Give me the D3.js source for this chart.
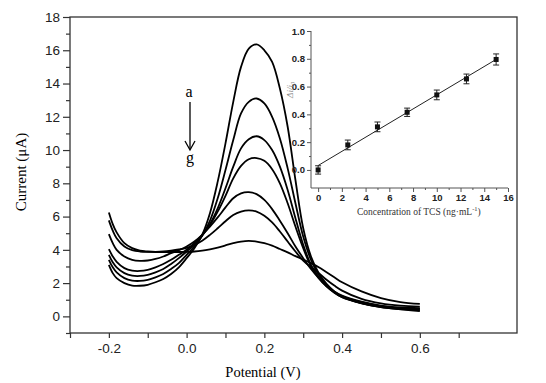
<!DOCTYPE html>
<html>
<head>
<meta charset="utf-8">
<script src="https://cdn.jsdelivr.net/npm/d3@7"></script>
<style>
  body { margin: 0; background: #fff; }
  svg { display: block; }
</style>
</head>
<body>
<div id="chart"></div>
<script>
// potentials (V) shared by every DPV curve
const potentials = [-0.2, -0.19, -0.18, -0.16, -0.14, -0.12, -0.1, -0.08, -0.06, -0.04, -0.02, 0,
  0.02, 0.04, 0.06, 0.08, 0.1, 0.12, 0.14, 0.16, 0.18, 0.2, 0.22, 0.24, 0.26, 0.28, 0.3,
  0.32, 0.34, 0.36, 0.38, 0.4, 0.45, 0.5, 0.55, 0.6]

// currents (uA), curve a (highest) down to g
const curveA = [3.1, 2.6, 2.3, 2.0, 1.85, 1.84, 1.9, 2.05, 2.25, 2.55, 2.95, 3.5, 4.1, 4.9, 6.2, 8.1, 10.4, 12.9, 15.0, 16.1, 16.35, 16.0, 15.3, 13.7, 11.4, 8.2, 5.3, 3.6, 2.6, 1.95, 1.5, 1.2, 0.8, 0.55, 0.42, 0.32]
const curveB = [3.4, 2.95, 2.65, 2.3, 2.15, 2.13, 2.2, 2.35, 2.55, 2.85, 3.2, 3.7, 4.2, 4.85, 5.75, 7.1, 8.8, 10.6, 12.2, 12.9, 13.1, 12.8, 12.0, 10.7, 8.9, 6.8, 4.8, 3.4, 2.5, 1.9, 1.45, 1.15, 0.78, 0.55, 0.43, 0.36]
const curveC = [3.7, 3.25, 2.95, 2.6, 2.45, 2.43, 2.5, 2.65, 2.85, 3.15, 3.5, 3.9, 4.3, 4.85, 5.55, 6.5, 7.7, 9.0, 10.1, 10.65, 10.83, 10.6, 10.0, 9.0, 7.6, 5.9, 4.3, 3.1, 2.35, 1.8, 1.42, 1.15, 0.8, 0.58, 0.46, 0.4]
const curveD = [4.04, 3.6, 3.28, 2.9, 2.75, 2.73, 2.8, 2.95, 3.15, 3.4, 3.7, 4.0, 4.4, 4.9, 5.5, 6.3, 7.25, 8.3, 9.05, 9.45, 9.52, 9.35, 8.85, 8.0, 6.8, 5.4, 4.1, 3.0, 2.3, 1.8, 1.45, 1.2, 0.85, 0.62, 0.5, 0.45]
const curveE = [4.94, 4.4, 4.0, 3.6, 3.4, 3.34, 3.36, 3.45, 3.6, 3.8, 3.98, 4.2, 4.5, 4.9, 5.4, 5.95, 6.55, 7.1, 7.4, 7.47, 7.35, 7.0, 6.45, 5.75, 5.0, 4.2, 3.5, 2.85, 2.3, 1.85, 1.5, 1.25, 0.88, 0.65, 0.54, 0.5]
const curveF = [5.77, 5.15, 4.7, 4.2, 3.98, 3.9, 3.88, 3.88, 3.9, 3.95, 4.02, 4.12, 4.3, 4.55, 4.9, 5.3, 5.72, 6.1, 6.3, 6.37, 6.3, 6.05, 5.65, 5.1, 4.5, 3.9, 3.35, 2.95, 2.6, 2.2, 1.85, 1.55, 1.05, 0.78, 0.64, 0.58]
const curveG = [6.25, 5.55, 5.05, 4.4, 4.1, 3.95, 3.9, 3.87, 3.87, 3.87, 3.87, 3.88, 3.9, 3.95, 4.03, 4.13, 4.27, 4.4, 4.5, 4.54, 4.5, 4.4, 4.25, 4.05, 3.85, 3.62, 3.42, 3.2, 2.95, 2.65, 2.35, 2.05, 1.5, 1.1, 0.86, 0.75]
const curves = [curveA, curveB, curveC, curveD, curveE, curveF, curveG]

// inset calibration
const concentrations = [0, 2.5, 5, 7.5, 10, 12.5, 15]
const ratios = [0.0, 0.18, 0.31, 0.415, 0.54, 0.655, 0.795]
const ratioErrors = [0.03, 0.035, 0.035, 0.03, 0.035, 0.035, 0.04]

const xTickLabels = ["-0.2", "0.0", "0.2", "0.4", "0.6"]

const width = 546, height = 383
const svg = d3.select("#chart").append("svg")
  .attr("width", width).attr("height", height)

const x = d3.scaleLinear().domain([-0.3, 0.85]).range([70, 517])
const y = d3.scaleLinear().domain([-1, 18]).range([333, 17])

const tickFont = "Liberation Sans, Arial, sans-serif"
const titleFont = "Liberation Serif, Times New Roman, serif"

// frame
svg.append("rect")
  .attr("x", x(-0.3)).attr("y", y(18))
  .attr("width", x(0.85) - x(-0.3)).attr("height", y(-1) - y(18))
  .attr("fill", "none").attr("stroke", "#333").attr("stroke-width", 1.3)

// y axis
const yAxis = svg.append("g")
  .attr("transform", `translate(${x(-0.3)},0)`)
  .call(d3.axisLeft(y).tickValues(d3.range(-1, 19)).tickSize(6)
    .tickFormat(d => (d >= 0 && d % 2 === 0) ? d : ""))
yAxis.select(".domain").remove()
yAxis.selectAll(".tick line")
  .attr("x2", d => (d >= 0 && d % 2 === 0) ? -7 : -4)
  .attr("stroke", "#333").attr("stroke-width", 1.2)
yAxis.selectAll(".tick text")
  .attr("x", -10).attr("font-size", 13.5).attr("font-family", tickFont).attr("fill", "#222")

// x axis
const xTicks = d3.range(-3, 8).map(i => i / 10)
const xAxis = svg.append("g")
  .attr("transform", `translate(0,${y(-1)})`)
  .call(d3.axisBottom(x).tickValues(xTicks).tickSize(5)
    .tickFormat(d => {
      const s = d.toFixed(1).replace("−", "-")
      return xTickLabels.includes(s) ? s : ""
    }))
xAxis.select(".domain").remove()
xAxis.selectAll(".tick line").attr("stroke", "#333").attr("stroke-width", 1.2)
xAxis.selectAll(".tick text")
  .attr("y", 10).attr("font-size", 13.5).attr("font-family", tickFont).attr("fill", "#222")

// axis titles
svg.append("text")
  .attr("transform", `translate(26,172) rotate(-90)`)
  .attr("text-anchor", "middle").attr("font-family", titleFont).attr("font-size", 15)
  .text("Current (μA)")
svg.append("text")
  .attr("x", 263).attr("y", 377)
  .attr("text-anchor", "middle").attr("font-family", titleFont).attr("font-size", 14.5)
  .text("Potential (V)")

// curves
const line = d3.line()
  .x((d, i) => x(potentials[i]))
  .y(d => y(d))
  .curve(d3.curveCatmullRom.alpha(0.5))

svg.append("g").selectAll("path")
  .data(curves)
  .join("path")
  .attr("d", d => line(d))
  .attr("fill", "none")
  .attr("stroke", "#000")
  .attr("stroke-width", 1.8)

// a -> g arrow
svg.append("text").attr("x", 189).attr("y", 97)
  .attr("text-anchor", "middle").attr("font-family", titleFont).attr("font-size", 16).text("a")
svg.append("text").attr("x", 190).attr("y", 163)
  .attr("text-anchor", "middle").attr("font-family", titleFont).attr("font-size", 16).text("g")
svg.append("line").attr("x1", 190).attr("x2", 190).attr("y1", 102).attr("y2", 149)
  .attr("stroke", "#000").attr("stroke-width", 1.3)
svg.append("path").attr("d", "M185,141 L190,150 L195,141")
  .attr("fill", "none").attr("stroke", "#000").attr("stroke-width", 1.3)

// inset
const ix = d3.scaleLinear().domain([-0.6, 16]).range([311, 508])
const iy = d3.scaleLinear().domain([-0.13, 1.0]).range([188, 31])
const inset = svg.append("g")

inset.append("line").attr("x1", ix(-0.6)).attr("x2", ix(-0.6)).attr("y1", iy(-0.13)).attr("y2", iy(1.0))
  .attr("stroke", "#555").attr("stroke-width", 1)
inset.append("line").attr("x1", ix(-0.6)).attr("x2", ix(16)).attr("y1", iy(-0.13)).attr("y2", iy(-0.13))
  .attr("stroke", "#555").attr("stroke-width", 1)

const iyAxis = inset.append("g").attr("transform", `translate(${ix(-0.6)},0)`)
  .call(d3.axisLeft(iy).tickValues(d3.range(0, 11).map(i => i / 10)).tickSize(3)
    .tickFormat(d => Math.round(d * 10) % 2 === 0 ? d.toFixed(1) : ""))
iyAxis.select(".domain").remove()
iyAxis.selectAll(".tick line").attr("stroke", "#555")
  .attr("x2", d => Math.round(d * 10) % 2 === 0 ? -4 : -2)
iyAxis.selectAll(".tick text").attr("x", -6)
  .attr("font-size", 9.5).attr("font-weight", "bold").attr("font-family", tickFont).attr("fill", "#222")

const ixAxis = inset.append("g").attr("transform", `translate(0,${iy(-0.13)})`)
  .call(d3.axisBottom(ix).tickValues(d3.range(0, 17)).tickSize(3)
    .tickFormat(d => d % 2 === 0 ? d : ""))
ixAxis.select(".domain").remove()
ixAxis.selectAll(".tick line").attr("stroke", "#555")
  .attr("y2", d => d % 2 === 0 ? 4 : 2)
ixAxis.selectAll(".tick text").attr("y", 6)
  .attr("font-size", 9.5).attr("font-weight", "bold").attr("font-family", tickFont).attr("fill", "#222")

// regression line through the calibration points
const reg = (() => {
  const mx = d3.mean(concentrations), my = d3.mean(ratios)
  const sxy = d3.sum(concentrations, (c, i) => (c - mx) * (ratios[i] - my))
  const sxx = d3.sum(concentrations, c => (c - mx) ** 2)
  const k = sxy / sxx
  return { k, b: my - k * mx }
})()
inset.append("line")
  .attr("x1", ix(0)).attr("y1", iy(reg.b))
  .attr("x2", ix(15)).attr("y2", iy(reg.b + reg.k * 15))
  .attr("stroke", "#222").attr("stroke-width", 1)

const pts = concentrations.map((c, i) => ({ c, r: ratios[i], e: ratioErrors[i] }))
const eb = inset.append("g").selectAll("g").data(pts).join("g")
eb.append("line")
  .attr("x1", d => ix(d.c)).attr("x2", d => ix(d.c))
  .attr("y1", d => iy(d.r - d.e)).attr("y2", d => iy(d.r + d.e))
  .attr("stroke", "#222").attr("stroke-width", 1)
eb.selectAll(".cap").data(d => [d.r - d.e, d.r + d.e].map(v => ({ c: d.c, v })))
  .join("line")
  .attr("x1", d => ix(d.c) - 3).attr("x2", d => ix(d.c) + 3)
  .attr("y1", d => iy(d.v)).attr("y2", d => iy(d.v))
  .attr("stroke", "#222").attr("stroke-width", 1)
eb.append("rect")
  .attr("x", d => ix(d.c) - 2.5).attr("y", d => iy(d.r) - 2.5)
  .attr("width", 5).attr("height", 5).attr("fill", "#111")

const xl = inset.append("text")
  .attr("x", 357).attr("y", 215)
  .attr("font-family", titleFont).attr("font-size", 9.5).attr("fill", "#333")
xl.append("tspan").text("Concentration of TCS (ng·mL")
xl.append("tspan").attr("dy", -4).attr("font-size", 6.5).text("-1")
xl.append("tspan").attr("dy", 4).text(")")

const yl = inset.append("text")
  .attr("transform", "translate(293,90) rotate(-90)")
  .attr("text-anchor", "middle").attr("font-family", titleFont).attr("font-size", 9)
  .attr("font-style", "italic").attr("fill", "#888")
yl.append("tspan").text("Δi/i")
yl.append("tspan").attr("dy", 2).attr("font-size", 6).text("0")
</script>
</body>
</html>
